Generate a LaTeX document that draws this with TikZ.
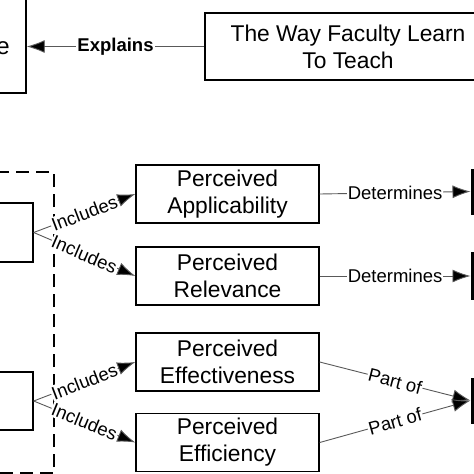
\documentclass[tikz,border=0pt]{standalone}
\usepackage{fontspec}
\setmainfont{Liberation Sans}
\usepackage{tikz}
\usetikzlibrary{arrows.meta}
\tikzset{concept/.style={draw, line width=1.4pt, inner sep=0pt, align=center,
    minimum width=183pt, minimum height=58pt,
    font=\fontsize{22.8}{27}\selectfont}}
\tikzset{tag/.style={fill=white, inner sep=1pt, font=\fontsize{18.5}{20}\selectfont}}
\tikzset{conn/.style={line width=0.9pt, draw=black!65, -{Latex[length=18pt,width=13pt,fill=black]}}}
\tikzset{outbox/.style={draw, line width=3pt, minimum width=80pt}}
\tikzset{%
  apply style/.code={%
    \tikzset{#1}%
  }
}

\begin{document}
\begin{tikzpicture}[x=1pt,y=-1pt]
  \useasboundingbox (0,0) rectangle (474,474);
  % boxes in the middle column
  \foreach \x/\y/\name/\lab in {
    227.5/194/{Perceived\\Applicability}/appl,
    227.5/276/{Perceived\\Relevance}/rel,
    227.5/362/{Perceived\\Effectiveness}/eff,
    227.5/442.5/{Perceived\\Efficiency}/effi%
  } {
    \node[concept] (\lab) at (\x, \y) {\name};
  }
  \node[concept, minimum width=286pt, minimum height=67pt] (teach) at (348, 46.5)
    {The Way Faculty Learn\\To Teach};
  \node[concept, minimum width=46pt, minimum height=0pt, text height=80pt,
    text depth=39pt, anchor=base, font=\fontsize{24}{27}\selectfont] (known) at (3, 54) {e};
  % group on the left
  \node[draw, line width=1.4pt, dash pattern=on 13pt off 7pt,
    minimum width=74pt, minimum height=301pt] (grp) at (17, 322.5) {};
  \node[concept, minimum width=66pt, minimum height=59pt] (grpA) at (0, 232.5) {};
  \node[concept, minimum width=66pt, minimum height=58pt] (grpB) at (0, 401) {};
  % boxes on the right
  \node[outbox, minimum height=43pt] (outA) at (512, 191.5) {};
  \node[outbox, minimum height=45pt] (outB) at (512, 276) {};
  \node[outbox, minimum height=43pt] (outC) at (512, 400.5) {};

  \draw[conn] (teach.west) -- node[tag, font=\fontsize{18.5}{20}\selectfont\bfseries]{Explains}
    (teach.west -| known.east);
  \begin{scope}[every node/.append style={tag, pos=.5}]
    \foreach \u/\v/\txt/\style in {
      grpA/appl/Includes/{sloped},
      grpA/rel/Includes/{sloped},
      grpB/eff/Includes/{sloped},
      grpB/effi/Includes/{sloped},
      appl/outA/Determines/{},
      rel/outB/Determines/{},
      eff/outC/Part of/{sloped},
      effi/outC/Part of/{sloped}%
    }{
      \draw[conn] (\u.east) -- node[apply style/.expand once=\style] {\txt} (\v.west);
    }
  \end{scope}
\end{tikzpicture}
\end{document}
